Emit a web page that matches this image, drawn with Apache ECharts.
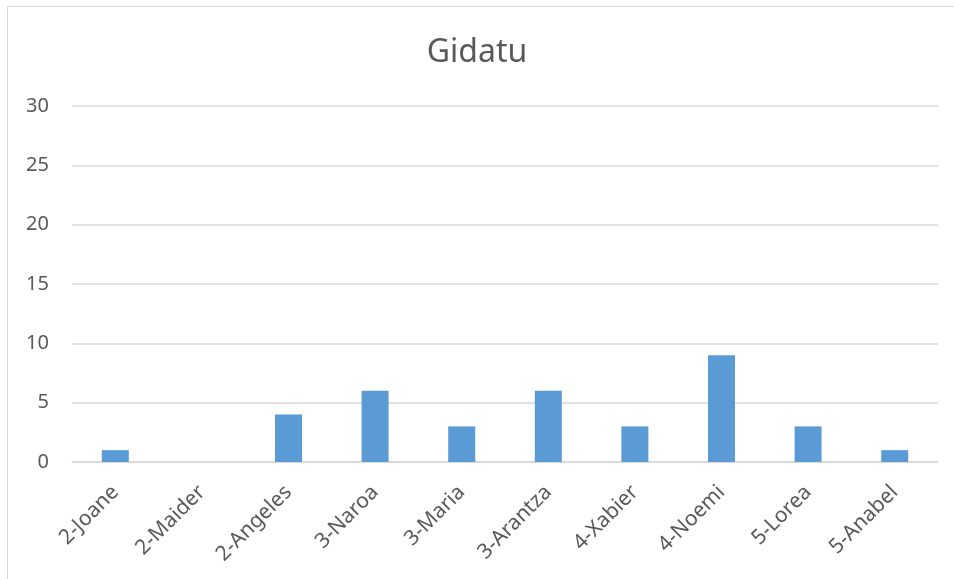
<!DOCTYPE html>
<html>
<head>
<meta charset="utf-8">
<script src="https://cdn.jsdelivr.net/npm/echarts@6/dist/echarts.min.js"></script>
<style>html,body{margin:0;padding:0;background:#fff;}#c{width:954px;height:579px;}</style>
</head>
<body>
<div id="c"></div>
<script>
const categories = ['2-Joane','2-Maider','2-Angeles','3-Naroa','3-Maria','3-Arantza','4-Xabier','4-Noemi','5-Lorea','5-Anabel'];
const values = [1, 0, 4, 6, 3, 6, 3, 9, 3, 1];
const titleText = 'Gidatu';

const chart = echarts.init(document.getElementById('c'), null, {renderer: 'canvas'});
chart.setOption({
  animation: false,
  backgroundColor: '#fff',
  textStyle: {fontFamily: 'Noto Sans'},
  title: {
    text: titleText, left: 'center', top: 32,
    textStyle: {fontFamily: 'Noto Sans', fontSize: 32, fontWeight: 'normal', color: '#595959'}
  },
  graphic: [{
    type: 'rect', shape: {x: 7.5, y: 6.5, width: 960, height: 600},
    style: {fill: 'none', stroke: '#D9D9D9', lineWidth: 1}, silent: true
  }],
  grid: {left: 72, right: 16, top: 106, bottom: 117, containLabel: false},
  xAxis: {
    type: 'category', data: categories,
    axisLine: {show: true, lineStyle: {color: '#D9D9D9', width: 1.5}},
    axisTick: {show: false},
    axisLabel: {rotate: 45, interval: 0, margin: 27, fontSize: 21, color: '#595959', fontFamily: 'Noto Sans'}
  },
  yAxis: {
    type: 'value', min: 0, max: 30, interval: 5,
    axisLine: {show: false}, axisTick: {show: false},
    splitLine: {lineStyle: {color: '#D9D9D9', width: 1.5}},
    axisLabel: {margin: 23, fontSize: 20, color: '#595959', fontFamily: 'Noto Sans'}
  },
  series: [{
    type: 'bar', data: values, barWidth: 27,
    itemStyle: {color: '#5B9BD5', borderColor: '#9DC3E6', borderWidth: 0}
  }]
});
</script>
</body>
</html>
